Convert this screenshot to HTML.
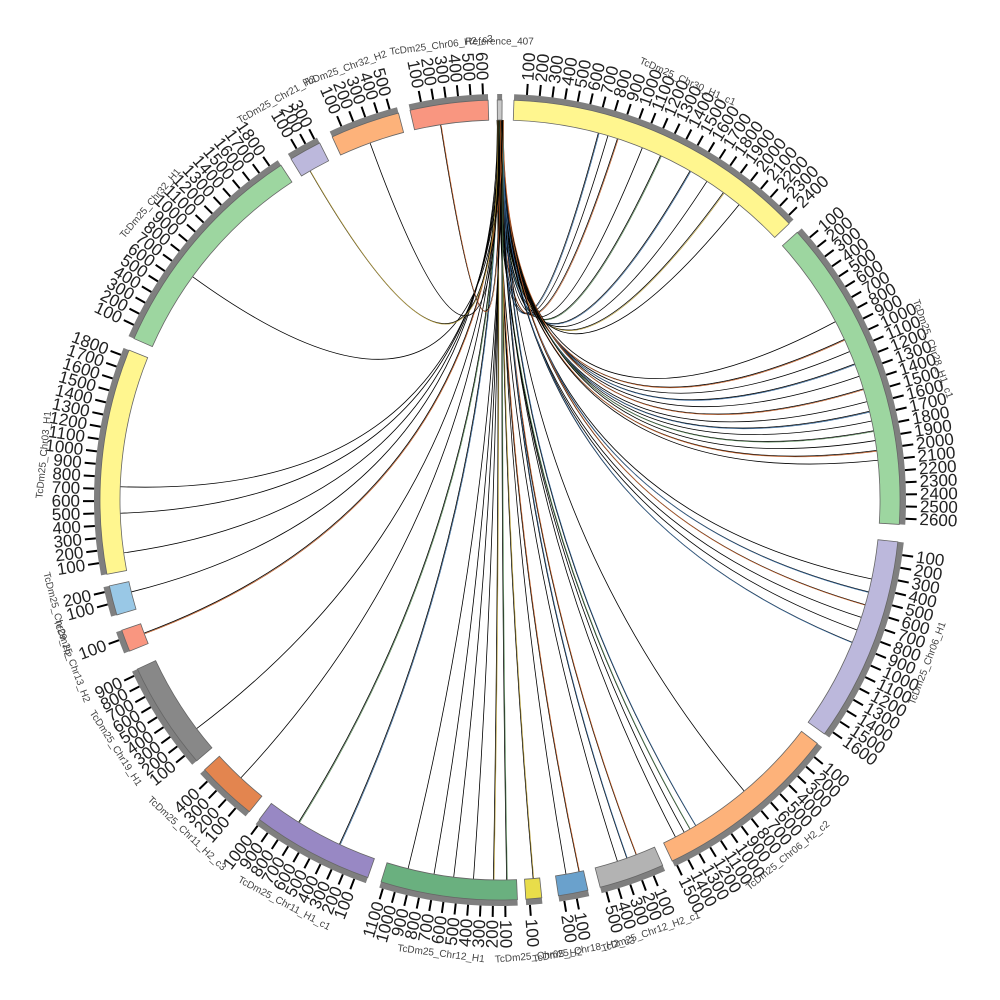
<!DOCTYPE html>
<html><head><meta charset="utf-8">
<style>
html,body{margin:0;padding:0;background:#fff;}
svg{display:block;font-family:"Liberation Sans",sans-serif;}
</style></head>
<body>
<svg id="s" width="1000" height="1000" viewBox="0 0 1000 1000" xmlns="http://www.w3.org/2000/svg">
<rect width="1000" height="1000" fill="#fff"/>
<g id="links"></g>
<g id="ideo"></g>
</svg>
<script>
const NS="http://www.w3.org/2000/svg";
const cx=500,cy=500;
const R1=380,R2=400,R3=406,RT=417,RN=420,RL=458;
function pt(a,r){a=a*Math.PI/180;return [cx+r*Math.sin(a),cy-r*Math.cos(a)];}
function el(tag,attrs,parent,text){const e=document.createElementNS(NS,tag);for(const k in attrs)e.setAttribute(k,attrs[k]);if(text!==undefined)e.textContent=text;parent.appendChild(e);return e;}
function sector(a0,a1,r0,r1){const p0=pt(a0,r1),p1=pt(a1,r1),p2=pt(a1,r0),p3=pt(a0,r0);const lg=(a1-a0)>180?1:0;
return `M${p0[0]},${p0[1]}A${r1},${r1} 0 ${lg} 1 ${p1[0]},${p1[1]}L${p2[0]},${p2[1]}A${r0},${r0} 0 ${lg} 0 ${p3[0]},${p3[1]}Z`;}
const segs=[
["Reference_407",359.6,360.3,40,"#c9c9c9"],
["TcDm25_Chr30_H1_c1",2.0,46.3,2450,"#fff68f"],
["TcDm25_Chr28_H1_c1",48.0,93.5,2650,"#9dd6a0"],
["TcDm25_Chr06_H1",96.0,125.8,1650,"#bcb8dc"],
["TcDm25_Chr06_H2_c2",127.5,154.5,1520,"#fdb27a"],
["TcDm25_Chr12_H2_c1",156.0,165.5,540,"#b3b3b3"],
["TcDm25_Chr18_H2_c3",167.3,171.6,240,"#6aa1cc"],
["TcDm25_Chr05_H2",174.0,176.3,130,"#e8dd4a"],
["TcDm25_Chr12_H1",177.5,197.3,1130,"#6ab07f"],
["TcDm25_Chr11_H1_c1",199.3,217.0,1020,"#9888c4"],
["TcDm25_Chr11_H2_c3",218.8,227.6,480,"#e3854f"],
["TcDm25_Chr19_H1",229.3,245.0,940,"#888888"],
["TcDm25_Chr13_H2",247.8,251.0,160,"#f99680"],
["TcDm25_Chr29_H2",253.3,257.6,240,"#99c8e6"],
["TcDm25_Chr03_H1",259.3,292.0,1860,"#fff68f"],
["TcDm25_Chr32_H1",293.8,326.8,1880,"#9dd6a0"],
["TcDm25_Chr21_H2",328.5,333.2,330,"#bcb8dc"],
["TcDm25_Chr32_H2",335.2,345.3,560,"#fdb27a"],
["TcDm25_Chr06_H2_c3",347.0,358.3,640,"#f99680"]
];
const ideo=document.getElementById("ideo");
for(const s of segs){
  const [name,a0,a1,len,col]=s;
  el("path",{d:sector(a0,a1,R2,R3),fill:"#7f7f7f"},ideo);
  el("path",{d:sector(a0,a1,R1,R2),fill:col,stroke:"#666","stroke-width":"0.8"},ideo);
  for(let u=100;u<len;u+=100){
    const a=a0+(a1-a0)*u/len;
    const p=pt(a,R3),q=pt(a,RT);
    el("line",{x1:p[0],y1:p[1],x2:q[0],y2:q[1],stroke:"#000","stroke-width":"2"},ideo);
    const t=pt(a,RN);
    let na=((a%360)+360)%360;
    let rot,anch;
    if(na<=180){rot=na-90;anch="start";}else{rot=na+90;anch="end";}
    el("text",{x:t[0],y:t[1],"font-size":"17","fill":"#222","text-anchor":anch,"dominant-baseline":"central",transform:`rotate(${rot} ${t[0]} ${t[1]})`},ideo,String(u));
  }
  let m=((a0+a1)/2+360)%360;
  const lp=pt(m,RL);
  let rot=(m>100&&m<260)?m-180:m;
  el("text",{x:lp[0],y:lp[1],"font-size":"10","fill":"#444","text-anchor":"middle","dominant-baseline":"central",transform:`rotate(${rot} ${lp[0]} ${lp[1]})`},ideo,name);
}
const links=document.getElementById("links");
const targets=[
[15,"#3a6a9a"],[16.5,"#000"],[18,"#c0602a"],[22,"#000"],[25,"#5a8a5a"],[30,"#3a6a9a"],[33,"#000"],[36,"#b8a040"],[39,"#000"],
[62,"#000"],[65,"#c0602a"],[67,"#000"],[69,"#3a6a9a"],[71,"#000"],[73,"#c0602a"],[75,"#000"],[76.5,"#3a6a9a"],[78,"#000"],[79.5,"#5a8a5a"],[81,"#000"],[82.5,"#c0602a"],[84,"#000"],
[102,"#000"],[104,"#3a6a9a"],[106,"#c0602a"],[108,"#000"],[110,"#000"],[112,"#3a6a9a"],
[140,"#000"],[149,"#3a6a9a"],[150,"#5a8a5a"],[151,"#000"],[152.5,"#000"],
[159,"#c0602a"],[160.5,"#3a6a9a"],[162,"#000"],[168,"#c0602a"],[170,"#000"],[175,"#b8a040"],
[179,"#5a8a5a"],[181,"#b8a040"],[184,"#000"],[187,"#000"],[190,"#000"],[194,"#000"],
[205,"#3a6a9a"],[212,"#5a8a5a"],[223,"#000"],[233,"#000"],[249.5,"#c0602a"],[256,"#000"],
[262,"#000"],[268,"#000"],[272,"#000"],[306,"#000"],[330,"#b8a040"],[340,"#000"],[351,"#c0602a"]
];
targets.forEach((t,i)=>{
  const a=t[0];
  const s=(i%5)*0.2-0.4;
  const p0=pt(s,R1);
  const p2=pt(a,R1);
  const c=[cx,cy];
  el("path",{d:`M${p0[0]},${p0[1]}Q${c[0]},${c[1]} ${p2[0]},${p2[1]}`,fill:"none",stroke:"#000","stroke-width":"0.8"},links);
  if(t[1]!=="#000"){
    el("path",{d:`M${p0[0]+0.7},${p0[1]}Q${c[0]+0.7},${c[1]+0.7} ${p2[0]+0.7},${p2[1]+0.7}`,fill:"none",stroke:t[1],"stroke-width":"0.7"},links);
  }
});
</script>
</body></html>
